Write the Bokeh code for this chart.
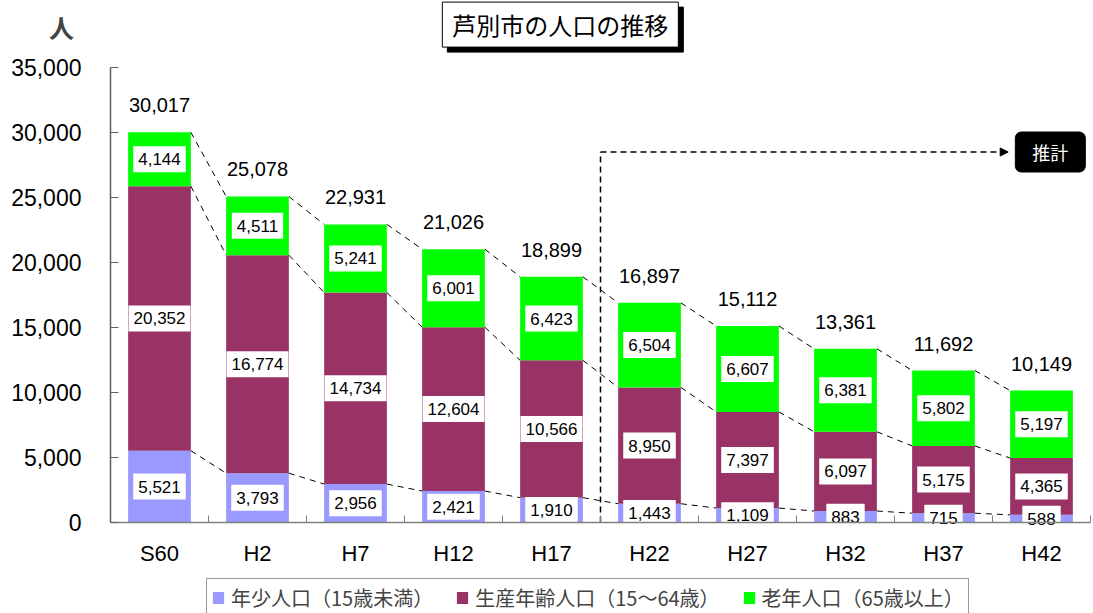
import numpy as np
from bokeh.plotting import figure
from bokeh.models import (Range1d, FixedTicker, NumeralTickFormatter, Label, Legend,
                          LegendItem, Arrow, NormalHead, ColumnDataSource)
from bokeh.core.properties import value
from bokeh.embed import file_html
from bokeh.resources import INLINE

# ---------------- data ----------------
categories = ["S60", "H2", "H7", "H12", "H17", "H22", "H27", "H32", "H37", "H42"]
young = [5521, 3793, 2956, 2421, 1910, 1443, 1109, 883, 715, 588]
working = [20352, 16774, 14734, 12604, 10566, 8950, 7397, 6097, 5175, 4365]
elderly = [4144, 4511, 5241, 6001, 6423, 6504, 6607, 6381, 5802, 5197]
totals = [30017, 25078, 22931, 21026, 18899, 16897, 15112, 13361, 11692, 10149]
series_names = ["年少人口（15歳未満）", "生産年齢人口（15～64歳）", "老年人口（65歳以上）"]
colors = ["#9999FF", "#993366", "#00FF00"]
y_ticks = [0, 5000, 10000, 15000, 20000, 25000, 30000, 35000]
y_max = 35000
title_text = "芦別市の人口の推移"
unit_text = "人"
estimate_text = "推計"
estimate_from = 5          # boundary between H17 and H22
estimate_level = 28500

NUM = value("Liberation Sans")
JPF = "Noto Sans CJK JP"

n = len(categories)
x = np.arange(n) + 0.5
bw = 0.64

# frame covers the whole canvas; axes are pinned at data 0
W, H = 1093, 613
LEFT, BOTTOM, TOP_PX = 110, 91, 67
px_x = (W - LEFT - 3) / n
px_y = (H - BOTTOM - TOP_PX) / y_max
x_range = Range1d(-LEFT / px_x, n + 3 / px_x)
y_range = Range1d(-BOTTOM / px_y, y_max + TOP_PX / px_y)

p = figure(width=W, height=H, x_range=x_range, y_range=y_range,
           output_backend="svg", toolbar_location=None,
           min_border_left=0, min_border_right=0, min_border_top=0, min_border_bottom=0)
p.xgrid.visible = False
p.ygrid.visible = False
p.outline_line_color = None
p.background_fill_color = "white"
p.border_fill_color = "white"

src = ColumnDataSource(dict(x=x, young=young, working=working, elderly=elderly))
rends = p.vbar_stack(["young", "working", "elderly"], x="x", width=bw, color=colors,
                     line_color=None, source=src)

young_a = np.array(young)
work_a = np.array(working)
old_a = np.array(elderly)
lvl1 = young_a
lvl2 = young_a + work_a
lvl3 = lvl2 + old_a

# dashed connectors between bars
for lvl in (lvl1, lvl2, lvl3):
    p.segment(x0=x[:-1] + bw / 2, y0=lvl[:-1], x1=x[1:] - bw / 2, y1=lvl[1:],
              line_color="black", line_width=1, line_dash="6 5")

# estimate marker
p.segment(x0=[estimate_from], y0=[0], x1=[estimate_from], y1=[estimate_level],
          line_color="black", line_width=1.5, line_dash="6 4")
p.add_layout(Arrow(end=NormalHead(size=8, fill_color="black", line_color="black"),
                   x_start=estimate_from, y_start=estimate_level,
                   x_end=9.16, y_end=estimate_level,
                   line_color="black", line_width=1.5, line_dash="6 4"))
p.add_layout(Label(x=9.59, y=estimate_level, text=estimate_text, text_font=JPF,
                   text_font_size="18px", text_color="white", text_align="center",
                   text_baseline="middle", background_fill_color="black",
                   border_line_color="black", border_radius=6,
                   padding=dict(left=17, right=17, top=7, bottom=7)))

# segment labels
for vals, mids in ((young_a, young_a / 2), (work_a, lvl1 + work_a / 2), (old_a, lvl2 + old_a / 2)):
    p.text(x=x, y=mids, text=[f"{v:,}" for v in vals], text_font=NUM,
           text_font_size="17px", text_color="black", text_align="center",
           text_baseline="middle", background_fill_color="white",
           padding=dict(left=5, right=5, top=7, bottom=7))

# totals
p.text(x=x, y=totals, text=[f"{v:,}" for v in totals], text_font=NUM,
       text_font_size="20px", text_color="black", text_align="center",
       text_baseline="middle", y_offset=-27)

# axes
xa = p.xaxis[0]
xa.fixed_location = 0
xa.bounds = (0, n)
xa.ticker = FixedTicker(ticks=list(x), minor_ticks=list(range(1, n + 1)))
xa.major_label_overrides = {float(xx): c for xx, c in zip(x, categories)}
xa.major_tick_in = 0
xa.major_tick_out = 0
xa.minor_tick_in = 7
xa.minor_tick_out = 0
xa.minor_tick_line_color = "#808080"
xa.axis_line_color = "#808080"
xa.axis_line_width = 1.5
xa.major_label_text_font = "Liberation Sans"
xa.major_label_text_font_size = "22px"
xa.major_label_text_color = "black"
xa.major_label_standoff = 18

ya = p.yaxis[0]
ya.fixed_location = 0
ya.bounds = (0, y_max)
ya.ticker = FixedTicker(ticks=y_ticks)
ya.formatter = NumeralTickFormatter(format="0,0")
ya.major_tick_in = 8
ya.major_tick_out = 0
ya.minor_tick_in = 0
ya.minor_tick_out = 0
ya.major_tick_line_color = "#606060"
ya.axis_line_color = "#606060"
ya.axis_line_width = 1.5
ya.major_label_text_font = "Liberation Sans"
ya.major_label_text_font_size = "23px"
ya.major_label_text_color = "black"
ya.major_label_standoff = 29

# unit label
p.add_layout(Label(x=-0.50, y=38150, text=unit_text, text_font=JPF, text_font_size="25px",
                   text_font_style="bold", text_align="center", text_baseline="middle"))

# title with shadow
p.add_layout(Label(x=4.59, y=38300, x_offset=5, y_offset=-5, text=title_text, text_font=JPF,
                   text_font_size="24px", text_color="black", text_align="center",
                   text_baseline="middle", background_fill_color="black",
                   border_line_color="black",
                   padding=dict(left=10, right=10, top=5, bottom=5)))
p.add_layout(Label(x=4.59, y=38300, text=title_text, text_font=JPF,
                   text_font_size="24px", text_color="black", text_align="center",
                   text_baseline="middle", background_fill_color="white",
                   border_line_color="black", border_line_width=1,
                   padding=dict(left=10, right=10, top=5, bottom=5)))

# legend
legend = Legend(items=[LegendItem(label=series_names[i], renderers=[rends[i]]) for i in range(3)],
                orientation="horizontal", location=(206, -4),
                label_text_font=JPF, label_text_font_size="20px",
                label_height=18, glyph_width=14, glyph_height=15, label_standoff=6, spacing=22,
                padding=4, margin=0, border_line_color="#333333", border_line_width=1,
                background_fill_color="white", background_fill_alpha=1)
p.add_layout(legend, "center")

open("out.html", "w").write(file_html(p, INLINE))
